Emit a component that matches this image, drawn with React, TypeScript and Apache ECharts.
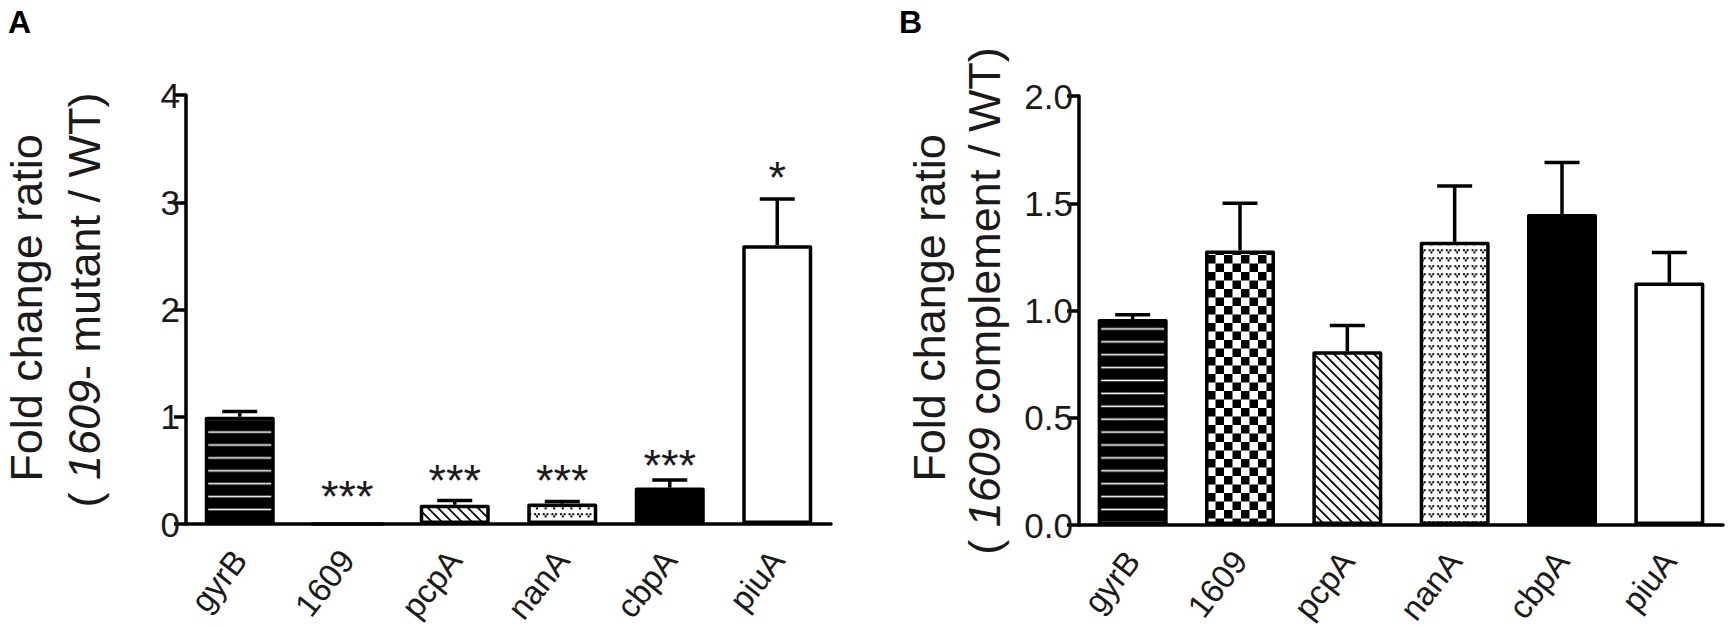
import React, { useEffect, useRef } from "react";
import * as echarts from "echarts";

// ---------- data ----------
const categories = ["gyrB", "1609", "pcpA", "nanA", "cbpA", "piuA"];

// Panel A: 1609- mutant / WT
const mutantValues = [1.0, 0, 0.18, 0.19, 0.34, 2.6];
const mutantErrorTop: (number | null)[] = [1.05, null, 0.22, 0.21, 0.41, 3.03];
const mutantStars = ["", "***", "***", "***", "***", "*"];
const mutantStarLevel: (number | null)[] = [null, 0.35, 0.5, 0.5, 0.64, 3.32];
const mutantAxisMin = 0;
const mutantAxisMax = 4;
const mutantAxisStep = 1;

// Panel B: 1609 complement / WT
const complementValues = [0.96, 1.28, 0.81, 1.32, 1.45, 1.13];
const complementErrorTop: (number | null)[] = [0.98, 1.5, 0.93, 1.58, 1.69, 1.27];
const complementAxisMin = 0;
const complementAxisMax = 2;
const complementAxisStep = 0.5;

// ---------- styling ----------
const FONT = '"Liberation Sans", Arial, Helvetica, sans-serif';
const INK = "#1a1a1a";
const LW = 3.5;

function tile(w: number, h: number, body: string) {
  const svg = `<svg xmlns="http://www.w3.org/2000/svg" width="${w}" height="${h}" viewBox="0 0 ${w} ${h}">${body}</svg>`;
  return {
    image: "data:image/svg+xml;charset=utf-8," + encodeURIComponent(svg),
    repeat: "repeat",
    imageWidth: w,
    imageHeight: h,
  } as any;
}

const patternStripes = tile(
  10,
  12.9,
  `<rect width="10" height="12.9" fill="#000"/><rect y="5.6" width="10" height="1.6" fill="#fff"/>`
);
const patternChecker = tile(
  17,
  17,
  `<rect width="17" height="17" fill="#fff"/><rect width="8.5" height="8.5" fill="#000"/><rect x="8.5" y="8.5" width="8.5" height="8.5" fill="#000"/>`
);
const patternDiagonal = tile(
  10,
  10,
  `<rect width="10" height="10" fill="#fff"/><path d="M-1,-1 L11,11 M-1,9 L1,11 M9,-1 L11,1" stroke="#000" stroke-width="1.7" fill="none"/>`
);
const patternDots = tile(
  8.6,
  8,
  `<rect width="8.6" height="8" fill="#fff"/><rect x="1.0" y="1.2" width="2" height="2" fill="#000"/><rect x="4.6" y="1.2" width="2" height="2" fill="#000"/><rect x="2.8" y="3.4" width="2" height="2" fill="#000"/>`
);
const fills = [patternStripes, patternChecker, patternDiagonal, patternDots, "#000", "#fff"];

function barData(values: number[]) {
  return values.map((v, i) => ({
    value: v,
    itemStyle: {
      color: fills[i],
      borderColor: "#000",
      borderWidth: LW,
      borderJoin: "round",
    },
  }));
}

function errorData(values: number[], tops: (number | null)[]) {
  const out: number[][] = [];
  tops.forEach((t, i) => {
    if (t != null) out.push([i, values[i], t]);
  });
  return out;
}

const renderError = (_params: any, api: any) => {
  const i = api.value(0);
  const p0 = api.coord([i, api.value(1)]);
  const p1 = api.coord([i, api.value(2)]);
  return {
    type: "group",
    children: [
      {
        type: "line",
        shape: { x1: p0[0], y1: p0[1], x2: p1[0], y2: p1[1] },
        style: { stroke: "#000", lineWidth: LW },
      },
      {
        type: "line",
        shape: { x1: p1[0] - 17.5, y1: p1[1], x2: p1[0] + 17.5, y2: p1[1] },
        style: { stroke: "#000", lineWidth: LW },
      },
    ],
  };
};

const renderStars = (_params: any, api: any) => {
  const i = api.value(0);
  const p = api.coord([i, api.value(1)]);
  return {
    type: "text",
    x: p[0],
    y: p[1] + 10,
    style: {
      text: mutantStars[i],
      fill: INK,
      fontSize: 45,
      fontFamily: FONT,
      align: "center",
      verticalAlign: "middle",
    },
  };
};

function xAxisCfg(gridIndex: number) {
  return {
    type: "category",
    gridIndex,
    data: categories,
    axisLine: { lineStyle: { color: "#000", width: LW } },
    axisTick: { alignWithLabel: true, length: 12, lineStyle: { color: "#000", width: LW } },
    axisLabel: {
      rotate: 52,
      interval: 0,
      margin: 30,
      fontSize: 33,
      fontFamily: FONT,
      color: INK,
    },
    splitLine: { show: false },
  };
}

function yAxisCfg(gridIndex: number, min: number, max: number, step: number, digits: number) {
  return {
    type: "value",
    gridIndex,
    min,
    max,
    interval: step,
    axisLine: { show: true, lineStyle: { color: "#000", width: LW } },
    axisTick: { show: true, length: 12, lineStyle: { color: "#000", width: LW } },
    axisLabel: {
      margin: 6,
      fontSize: 35,
      fontFamily: FONT,
      color: INK,
      formatter: (v: number) => v.toFixed(digits),
    },
    splitLine: { show: false },
  };
}

function titleText(x: number, y: number, text: string, size: number) {
  return {
    type: "text",
    x,
    y,
    rotation: Math.PI / 2,
    style: {
      text,
      fill: INK,
      fontSize: size,
      fontFamily: FONT,
      align: "center",
      verticalAlign: "middle",
      rich: {
        n: { fontSize: size, fontFamily: FONT, fill: INK },
        i: { fontSize: size, fontFamily: FONT, fontStyle: "italic", fill: INK },
      },
    },
  };
}

export default function App() {
  const ref = useRef<HTMLDivElement>(null);

  useEffect(() => {
    if (!ref.current) return;
    const chart = echarts.init(ref.current, null, { renderer: "svg" });
    const option: any = {
      animation: false,
      backgroundColor: "#fff",
      grid: [
        { left: 186, top: 95, width: 645, height: 429 },
        { left: 1079, top: 96, width: 644, height: 429 },
      ],
      xAxis: [xAxisCfg(0), xAxisCfg(1)],
      yAxis: [
        yAxisCfg(0, mutantAxisMin, mutantAxisMax, mutantAxisStep, 0),
        yAxisCfg(1, complementAxisMin, complementAxisMax, complementAxisStep, 1),
      ],
      series: [
        {
          type: "bar",
          xAxisIndex: 0,
          yAxisIndex: 0,
          barWidth: 70,
          data: barData(mutantValues),
          z: 2,
        },
        {
          type: "custom",
          xAxisIndex: 0,
          yAxisIndex: 0,
          renderItem: renderError,
          encode: { x: 0, y: 2 },
          data: errorData(mutantValues, mutantErrorTop),
          z: 3,
        },
        {
          type: "custom",
          xAxisIndex: 0,
          yAxisIndex: 0,
          renderItem: renderStars,
          encode: { x: 0, y: 1 },
          data: mutantStarLevel
            .map((s, i) => (s == null ? null : [i, s]))
            .filter((d) => d != null),
          z: 3,
        },
        {
          type: "bar",
          xAxisIndex: 1,
          yAxisIndex: 1,
          barWidth: 70,
          data: barData(complementValues),
          z: 2,
        },
        {
          type: "custom",
          xAxisIndex: 1,
          yAxisIndex: 1,
          renderItem: renderError,
          encode: { x: 0, y: 2 },
          data: errorData(complementValues, complementErrorTop),
          z: 3,
        },
      ],
      graphic: [
        {
          type: "text",
          left: 8,
          top: 6,
          style: { text: "A", fontSize: 32, fontWeight: "bold", fontFamily: FONT, fill: "#000" },
        },
        {
          type: "text",
          left: 899,
          top: 6,
          style: { text: "B", fontSize: 32, fontWeight: "bold", fontFamily: FONT, fill: "#000" },
        },
        titleText(26, 308, "{n|Fold change ratio}", 45),
        titleText(84, 300, "{n|( }{i|1609}{n|- mutant / WT)}", 45),
        titleText(929, 308, "{n|Fold change ratio}", 45),
        titleText(984, 301, "{n|( }{i|1609}{n| complement / WT)}", 45),
      ],
    };
    chart.setOption(option);
    return () => chart.dispose();
  }, []);

  return (
    <div
      ref={ref}
      style={{ position: "fixed", left: 0, top: 0, width: 1729, height: 629, background: "#fff" }}
    />
  );
}
